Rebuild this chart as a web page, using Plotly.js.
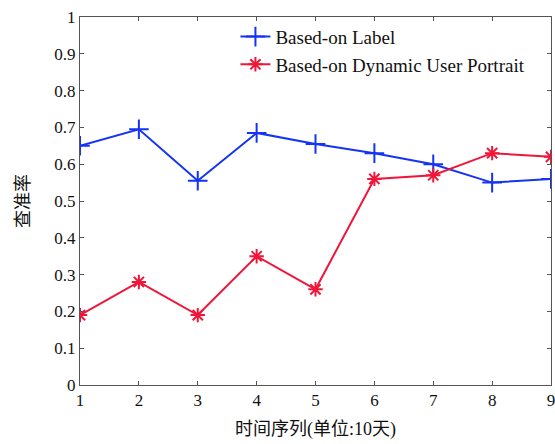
<!DOCTYPE html>
<html><head><meta charset="utf-8">
<script src="https://cdn.plot.ly/plotly-3.0.1.min.js"></script>
<style>html,body{margin:0;padding:0;background:#fff}#chart{width:555px;height:444px}</style>
</head><body><div id="chart"></div>
<script>
var xValues = [1, 2, 3, 4, 5, 6, 7, 8, 9];
var labelSeries = [0.65, 0.695, 0.555, 0.685, 0.655, 0.63, 0.60, 0.55, 0.56];
var portraitSeries = [0.19, 0.28, 0.19, 0.35, 0.26, 0.56, 0.57, 0.63, 0.62];
var seriesNames = ['Based-on Label', 'Based-on Dynamic User Portrait'];
var yTicks = [0, 0.1, 0.2, 0.3, 0.4, 0.5, 0.6, 0.7, 0.8, 0.9, 1];
var yTickText = ['0', '0.1', '0.2', '0.3', '0.4', '0.5', '0.6', '0.7', '0.8', '0.9', '1'];

var font = 'Liberation Serif, Noto Sans CJK SC, serif';
var traces = [
  {x: xValues, y: labelSeries, name: seriesNames[0], mode: 'lines+markers',
   line: {color: '#1533f5', width: 2},
   marker: {symbol: 'cross-thin-open', size: 14, color: '#1533f5', line: {color: '#1533f5', width: 2}}},
  {x: xValues, y: portraitSeries, name: seriesNames[1], mode: 'lines+markers',
   line: {color: '#f0163a', width: 2},
   marker: {symbol: 'asterisk-open', size: 12, color: '#f0163a', line: {color: '#f0163a', width: 2}}}
];
var axisCommon = {
  showline: true, linecolor: '#555', linewidth: 1, mirror: 'ticks',
  ticks: 'inside', ticklen: 4, tickcolor: '#555', tickwidth: 1,
  showgrid: false, zeroline: false, ticklabeloverflow: 'allow',
  tickfont: {family: font, size: 17, color: '#111'}
};
var layout = {
  width: 555, height: 444,
  margin: {l: 80, r: 4, t: 17, b: 59},
  paper_bgcolor: '#fff', plot_bgcolor: '#fff',
  font: {family: font},
  showlegend: true,
  legend: {x: 0.33, y: 0.998, xanchor: 'left', yanchor: 'top', bgcolor: 'rgba(255,255,255,0)',
    font: {family: font, size: 19, color: '#111'}, tracegroupgap: 0, itemwidth: 30},
  xaxis: Object.assign({}, axisCommon, {range: [1, 9], tickvals: xValues, ticktext: xValues.map(String),
    title: {text: '时间序列(单位:10天)', font: {family: font, size: 18, color: '#111'}, standoff: 12}}),
  yaxis: Object.assign({}, axisCommon, {range: [0, 1], tickvals: yTicks, ticktext: yTickText,
    title: {text: '查准率', font: {family: font, size: 18, color: '#111'}, standoff: 20}})
};
Plotly.newPlot('chart', traces, layout, {displayModeBar: false, staticPlot: true});
</script></body></html>
